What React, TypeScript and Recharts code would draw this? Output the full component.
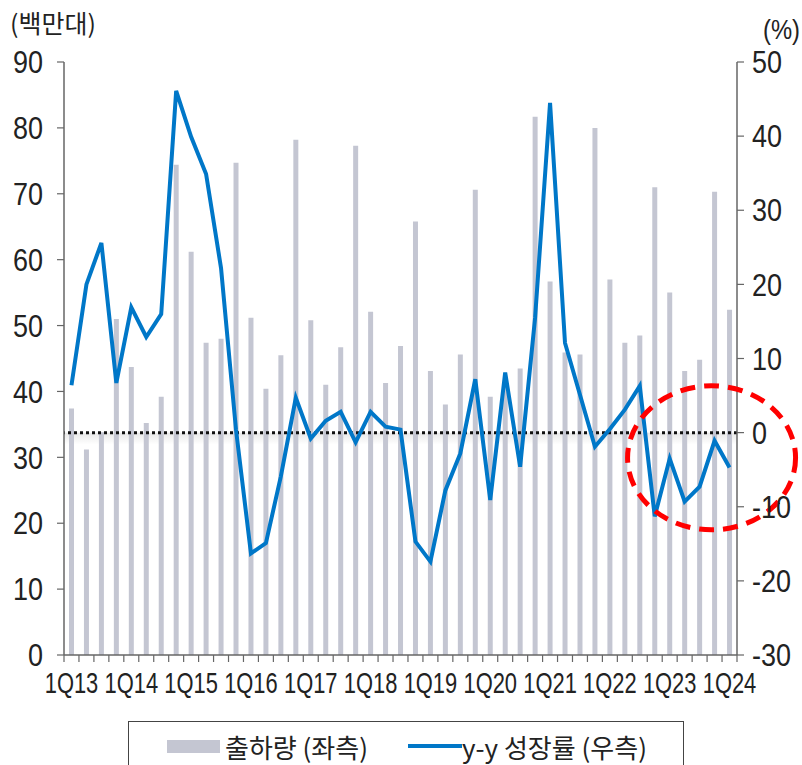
import {
  Bar,
  ComposedChart,
  Line,
  ReferenceArea,
  ReferenceDot,
  ReferenceLine,
  XAxis,
  YAxis,
} from "recharts"

const quarters = [
  "1Q13", "2Q13", "3Q13", "4Q13", "1Q14", "2Q14", "3Q14", "4Q14",
  "1Q15", "2Q15", "3Q15", "4Q15", "1Q16", "2Q16", "3Q16", "4Q16",
  "1Q17", "2Q17", "3Q17", "4Q17", "1Q18", "2Q18", "3Q18", "4Q18",
  "1Q19", "2Q19", "3Q19", "4Q19", "1Q20", "2Q20", "3Q20", "4Q20",
  "1Q21", "2Q21", "3Q21", "4Q21", "1Q22", "2Q22", "3Q22", "4Q22",
  "1Q23", "2Q23", "3Q23", "4Q23", "1Q24",
]

// 출하량 (백만대)
const shipments = [
  37.4, 31.2, 33.8, 51.0, 43.7, 35.2, 39.2, 74.4, 61.2, 47.4,
  48.0, 74.7, 51.2, 40.4, 45.5, 78.2, 50.8, 41.0, 46.7, 77.3,
  52.1, 41.3, 46.9, 65.8, 43.1, 38.0, 45.6, 70.6, 39.2, 41.0,
  43.5, 81.7, 56.7, 45.9, 45.6, 80.0, 57.0, 47.4, 48.5, 71.0,
  55.0, 43.1, 44.8, 70.3, 52.4,
]

// y-y 성장률 (%)
const growth = [
  6.4, 20.0, 25.6, 6.7, 16.9, 12.9, 16.0, 46.1, 39.9, 34.9,
  22.2, 0.4, -16.3, -14.9, -5.9, 4.7, -0.8, 1.6, 2.8, -1.3,
  2.8, 0.8, 0.4, -14.7, -17.4, -7.8, -2.8, 7.2, -9.1, 8.1,
  -4.6, 15.5, 44.5, 12.1, 5.1, -1.9, 0.5, 3.1, 6.3, -11.3,
  -3.5, -9.3, -7.3, -1.1, -4.7,
]

const leftTicks = [0, 10, 20, 30, 40, 50, 60, 70, 80, 90]
const rightTicks = [-30, -20, -10, 0, 10, 20, 30, 40, 50]

const W = 802
const H = 710
const M = { top: 62, right: 9, bottom: 10, left: 8 }
const AXIS_W = 56
const BAND = (W - M.left - M.right - AXIS_W * 2) / quarters.length

const NUM_FONT = "'Liberation Sans', Arial, sans-serif"
const KR_FONT = "'Noto Sans CJK KR', 'Noto Sans', sans-serif"
const TEXT = "#222"
const BAR_COLOR = "#c4c6d2"
const LINE_COLOR = "#0077c8"

const data = quarters.map((q, i) => ({ q, ship: shipments[i], yoy: growth[i] }))

// narrow-looking labels: regular sans squeezed horizontally
function QuarterTick(props: any) {
  const { x, y, payload, index } = props
  const left = x - BAND / 2
  return (
    <g>
      <line x1={left} x2={left} y1={y} y2={y + 7} stroke="#666" strokeWidth={1.2} />
      {index === quarters.length - 1 && (
        <line x1={x + BAND / 2} x2={x + BAND / 2} y1={y} y2={y + 7} stroke="#666" strokeWidth={1.2} />
      )}
      {index % 4 === 0 && (
        <text transform={`translate(${x},${y + 38}) scale(0.73,1)`} textAnchor="middle"
          fontSize={30} fill={TEXT} fontFamily={NUM_FONT}>
          {payload.value}
        </text>
      )}
    </g>
  )
}

function ValueTick(props: any) {
  const { x, y, payload, textAnchor } = props
  return (
    <text transform={`translate(${x},${y}) scale(0.87,1)`} textAnchor={textAnchor} dy="0.36em"
      fontSize={31} fill={TEXT} fontFamily={NUM_FONT}>
      {payload.value}
    </text>
  )
}

function Ellipse(props: any) {
  const { cx, cy } = props
  return (
    <ellipse cx={cx - 3} cy={cy} rx={84} ry={72} fill="none" stroke="#ff0000"
      strokeWidth={5} strokeDasharray="15 9" />
  )
}

function LegendBox() {
  return (
    <div style={{
      position: "absolute", left: 128, top: 721, width: 556, height: 50,
      border: "1.5px solid #444", boxSizing: "border-box", fontFamily: KR_FONT,
      fontSize: 26, color: TEXT, display: "flex", alignItems: "center", whiteSpace: "nowrap",
    }}>
      <span style={{ display: "inline-block", width: 53, height: 13, background: BAR_COLOR, marginLeft: 38, marginRight: 5 }} />
      <span>출하량 (좌측)</span>
      <span style={{ display: "inline-block", width: 54, height: 4, background: LINE_COLOR, marginLeft: 40 }} />
      <span>y-y 성장률 (우측)</span>
    </div>
  )
}

export default function App() {
  return (
    <div style={{ position: "absolute", left: 0, top: 0, width: W, height: 765, background: "#fff", overflow: "hidden" }}>
      <div style={{ position: "absolute", left: 10, top: 4, fontFamily: KR_FONT, fontSize: 25, color: TEXT }}>(백만대)</div>
      <div style={{
        position: "absolute", left: 763, top: 14, fontFamily: NUM_FONT, fontSize: 28, color: TEXT,
        transform: "scaleX(0.85)", transformOrigin: "left top",
      }}>(%)</div>
      <ComposedChart width={W} height={H} data={data} margin={M} barCategoryGap={0}>
        <defs>
          <linearGradient id="zeroShadow" x1="0" y1="0" x2="0" y2="1">
            <stop offset="0%" stopColor="#999" stopOpacity={0.45} />
            <stop offset="100%" stopColor="#999" stopOpacity={0} />
          </linearGradient>
        </defs>
        <XAxis
          dataKey="q"
          interval={0}
          tickLine={false}
          tickSize={0}
          tickMargin={0}
          height={H - M.top - M.bottom - 593}
          axisLine={{ stroke: "#666", strokeWidth: 1.5 }}
          tick={<QuarterTick />}
        />
        <YAxis
          yAxisId="left"
          domain={[0, 90]}
          ticks={leftTicks}
          width={AXIS_W}
          tickSize={7}
          tickMargin={14}
          axisLine={{ stroke: "#666", strokeWidth: 1.5 }}
          tickLine={{ stroke: "#666", strokeWidth: 1.2 }}
          tick={<ValueTick />}
        />
        <YAxis
          yAxisId="right"
          orientation="right"
          domain={[-30, 50]}
          ticks={rightTicks}
          width={AXIS_W}
          tickSize={7}
          tickMargin={8}
          axisLine={{ stroke: "#666", strokeWidth: 1.5 }}
          tickLine={{ stroke: "#666", strokeWidth: 1.2 }}
          tick={<ValueTick />}
        />
        <Bar yAxisId="left" dataKey="ship" fill={BAR_COLOR} barSize={5} isAnimationActive={false} />
        <ReferenceArea yAxisId="right" y1={-1.6} y2={0} fill="url(#zeroShadow)" stroke="none" />
        <ReferenceLine yAxisId="right" y={0} stroke="#111" strokeWidth={3} strokeDasharray="3 3" />
        <Line
          yAxisId="right"
          dataKey="yoy"
          type="linear"
          stroke={LINE_COLOR}
          strokeWidth={4}
          dot={false}
          isAnimationActive={false}
        />
        <ReferenceDot
          yAxisId="right"
          x={quarters[43]}
          y={-3.4}
          ifOverflow="visible"
          shape={<Ellipse />}
        />
      </ComposedChart>
      <LegendBox />
    </div>
  )
}
